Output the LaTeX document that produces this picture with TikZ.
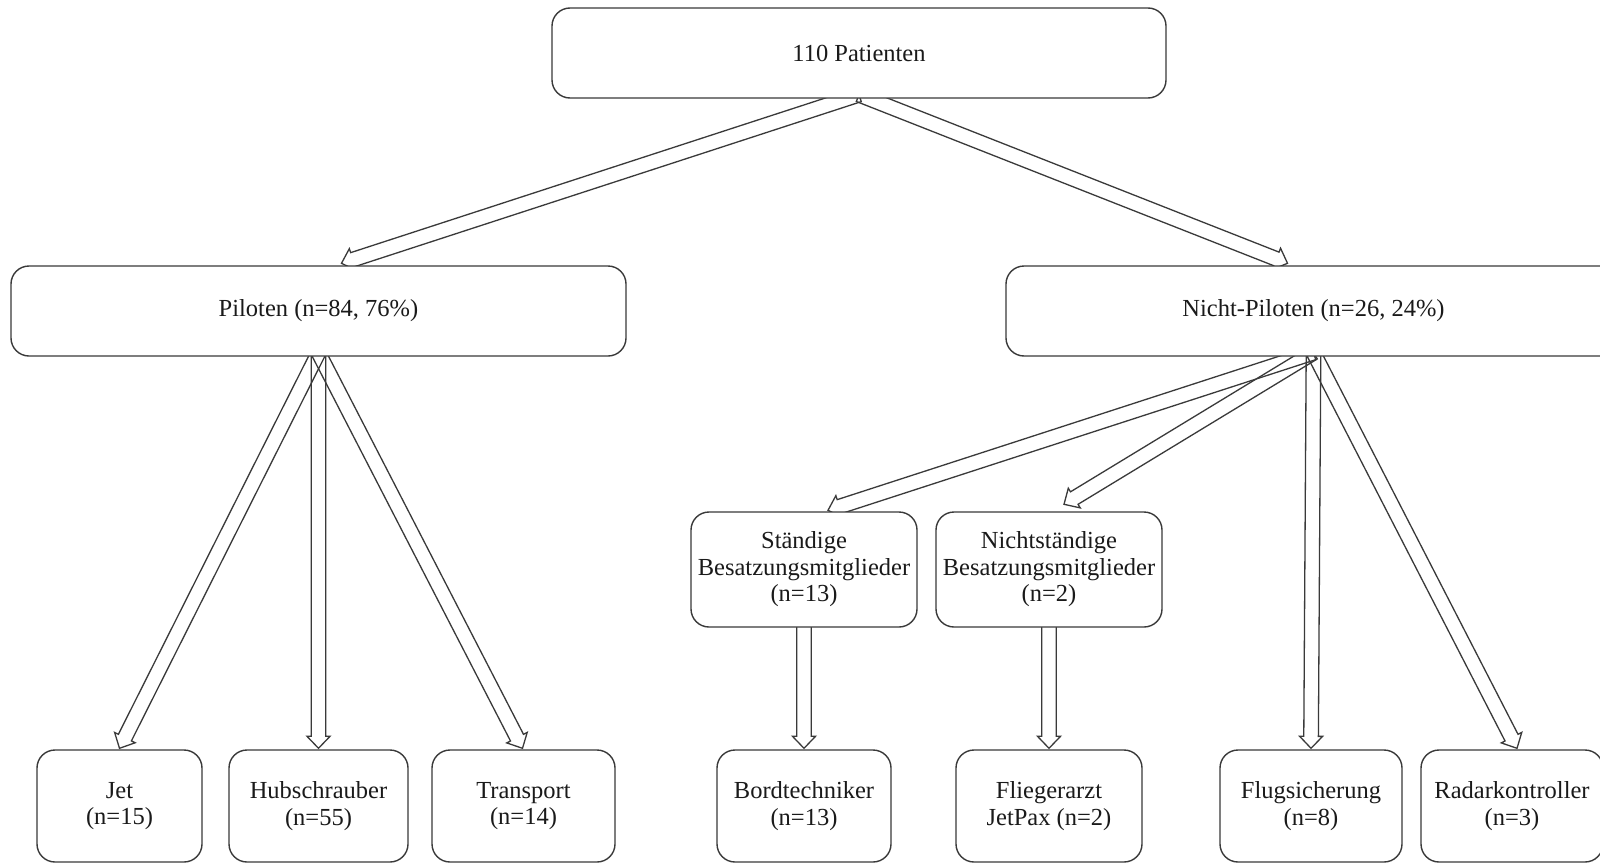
\documentclass[tikz,border=0pt]{standalone}
\usepackage{fontspec}
\setmainfont{Liberation Serif}
\usetikzlibrary{calc}
\pgfdeclarelayer{back}
\pgfdeclarelayer{bg}
\pgfsetlayers{back,bg,main}
\definecolor{linegray}{HTML}{3A3A3A}
\definecolor{textgray}{HTML}{1A1A1A}
\tikzset{
  box/.style={draw=linegray, line width=1.4pt, fill=white, rounded corners=18pt,
    align=center, inner sep=0pt, text=textgray,
    font=\fontsize{24.5}{26.5}\selectfont},
  blockarrowstyle/.style={draw=linegray, line width=1.3pt, line join=miter}
}
\newcommand{\blockarrow}[2]{%
  \coordinate (bah) at ($(#2)!12pt!(#1)$);
  \draw[blockarrowstyle]
    ($(#1)!7.3pt!90:(#2)$) -- ($(bah)!7.3pt!-90:(#1)$) -- ($(bah)!11.5pt!-90:(#1)$)
    -- (#2) -- ($(bah)!11.5pt!90:(#1)$) -- ($(bah)!7.3pt!90:(#1)$)
    -- ($(#1)!7.3pt!-90:(#2)$) -- cycle;
}
\begin{document}
\begin{tikzpicture}[x=1pt,y=-1pt]
\useasboundingbox (0,0) rectangle (1600,862);
\clip (0,0) rectangle (1600,862);
\begin{pgfonlayer}{back}
\fill[white] (0,0) rectangle (1600,862);
\end{pgfonlayer}
% boxes
\node[box, minimum width=614pt, minimum height=90pt] (T) at (859,53) {110 Patienten};
\node[box, minimum width=615pt, minimum height=90pt] (P) at (318.5,311) {Piloten (n=84, 76\%)};
\node[box, minimum width=615pt, minimum height=90pt] (NP) at (1313.5,311) {Nicht-Piloten (n=26, 24\%)};
\node[box, minimum width=226pt, minimum height=115pt] (S) at (804,569.5) {Ständige\\Besatzungsmitglieder\\(n=13)};
\node[box, minimum width=226pt, minimum height=115pt] (NS) at (1049,569.5) {Nichtständige\\Besatzungsmitglieder\\(n=2)};
\node[box, minimum width=165pt, minimum height=112pt] (Jet) at (119.5,806) {Jet\\(n=15)};
\node[box, minimum width=179pt, minimum height=112pt] (Hub) at (318.5,806) {Hubschrauber\\(n=55)};
\node[box, minimum width=183pt, minimum height=112pt] (Trans) at (523.5,806) {Transport\\(n=14)};
\node[box, minimum width=174pt, minimum height=112pt] (Bord) at (804,806) {Bordtechniker\\(n=13)};
\node[box, minimum width=186pt, minimum height=112pt] (Flieger) at (1049,806) {Fliegerarzt\\JetPax (n=2)};
\node[box, minimum width=182pt, minimum height=112pt] (Flug) at (1311,806) {Flugsicherung\\(n=8)};
\node[box, minimum width=182pt, minimum height=112pt] (Radar) at (1512,806) {Radarkontroller\\(n=3)};
% connector end points
\coordinate (ts) at ($(T.south)+(0,-4)$);
\coordinate (ps) at ($(P.south)+(0,-4)$);
\coordinate (nps) at ($(NP.south)+(0,-4)$);
\coordinate (ss) at ($(S.south)+(0,-4)$);
\coordinate (nss) at ($(NS.south)+(0,-4)$);
\coordinate (pn) at ($(P.north)+(23,-2)$);
\coordinate (npn) at ($(NP.north)+(-26,-2)$);
\coordinate (sn) at ($(S.north)+(24,-1)$);
\coordinate (nsn) at ($(NS.north)+(15,-7)$);
\coordinate (jn) at ($(Jet.north)+(0,-1)$);
\coordinate (hn) at ($(Hub.north)+(0,-1)$);
\coordinate (trn) at ($(Trans.north)+(-1,-1)$);
\coordinate (bn) at ($(Bord.north)+(0,-1)$);
\coordinate (fn) at ($(Flieger.north)+(0,-1)$);
\coordinate (fln) at ($(Flug.north)+(0,-1)$);
\coordinate (rn) at ($(Radar.north)+(5,-1)$);
\begin{pgfonlayer}{bg}
\blockarrow{ts}{pn}
\blockarrow{ts}{npn}
\blockarrow{ps}{jn}
\blockarrow{ps}{hn}
\blockarrow{ps}{trn}
\blockarrow{nps}{sn}
\blockarrow{nps}{nsn}
\blockarrow{nps}{fln}
\blockarrow{nps}{rn}
\blockarrow{ss}{bn}
\blockarrow{nss}{fn}
\end{pgfonlayer}
\end{tikzpicture}
\end{document}
